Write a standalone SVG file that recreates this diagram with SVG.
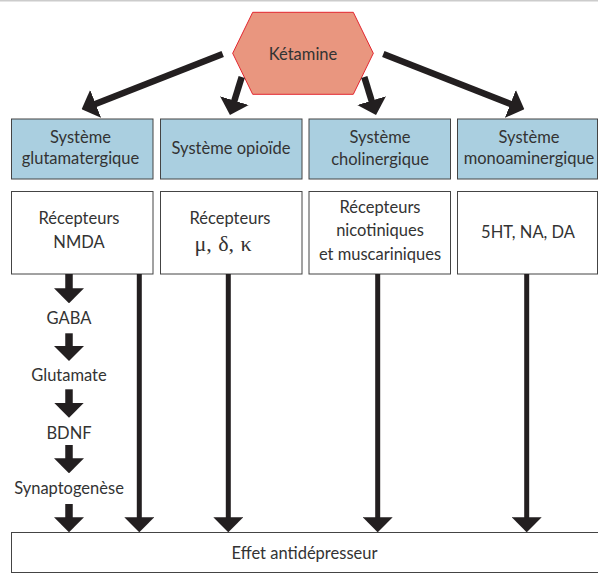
<svg xmlns="http://www.w3.org/2000/svg" width="598" height="575" viewBox="0 0 598 575">
  <style>
    .t { font-family: Lato, "Open Sans", "Liberation Sans", sans-serif; font-size: 16.5px; fill: #333333; text-anchor: middle; dominant-baseline: central; }
    .greek { font-family: "Liberation Serif", "DejaVu Serif", serif; font-size: 22px; fill: #333333; text-anchor: middle; dominant-baseline: central; word-spacing: 1px; }
    .sys { fill: #aacfe0; stroke: #444444; stroke-width: 1; }
    .rec { fill: #ffffff; stroke: #444444; stroke-width: 1; }
    .conn { stroke: #231f20; fill: none; stroke-linecap: butt; marker-end: url(#ah); }
    .thick { stroke-width: 6.5; }
    .mid { stroke-width: 7.5; }
    .thin { stroke-width: 5; }
  </style>
  <defs>
    <marker id="ah" markerUnits="userSpaceOnUse" markerWidth="15" markerHeight="30" viewBox="0 0 15 30" refX="1" refY="15" orient="auto">
      <path d="M0,0 L15,15 L0,30 Z" fill="#231f20"/>
    </marker>
  </defs>
  <rect x="0" y="0" width="598" height="575" fill="#ffffff"/>
  <line x1="0" y1="0.75" x2="598" y2="0.75" stroke="#cccccc" stroke-width="1.5"/>

  <g id="ketamine">
    <polygon points="232.7,53.3 252.7,12.3 353.3,12.3 373.3,53.3 353.3,94.3 252.7,94.3" fill="#e9967f" stroke="#e3262f" stroke-width="1"/>
    <text class="t" x="303" y="53.5">Kétamine</text>
  </g>

  <g id="sys-glutamatergique">
    <rect class="sys" x="11.5" y="119" width="141.5" height="60"/>
    <text class="t" x="80.5" y="136.7">Système</text>
    <text class="t" x="80.5" y="158.3">glutamatergique</text>
  </g>
  <g id="sys-opioide">
    <rect class="sys" x="160.5" y="119" width="141.5" height="60"/>
    <text class="t" x="231" y="148.3">Système opioïde</text>
  </g>
  <g id="sys-cholinergique">
    <rect class="sys" x="309" y="119" width="141.5" height="60"/>
    <text class="t" x="380" y="136.7">Système</text>
    <text class="t" x="380" y="159">cholinergique</text>
  </g>
  <g id="sys-monoaminergique">
    <rect class="sys" x="457.5" y="119" width="140" height="60"/>
    <text class="t" x="529" y="136.7">Système</text>
    <text class="t" x="529" y="158.3">monoaminergique</text>
  </g>

  <g id="rec-nmda">
    <rect class="rec" x="11.5" y="191.5" width="141.5" height="82.5"/>
    <text class="t" x="79" y="218.3">Récepteurs</text>
    <text class="t" x="79" y="241.7">NMDA</text>
  </g>
  <g id="rec-opioide">
    <rect class="rec" x="160.5" y="191.5" width="141.5" height="82.5"/>
    <text class="t" x="230" y="218.3">Récepteurs</text>
    <text class="greek" x="223" y="243">μ, δ, κ</text>
  </g>
  <g id="rec-cholinergique">
    <rect class="rec" x="309" y="191.5" width="141.5" height="82.5"/>
    <text class="t" x="380" y="206.7">Récepteurs</text>
    <text class="t" x="380" y="230">nicotiniques</text>
    <text class="t" x="380" y="254">et muscariniques</text>
  </g>
  <g id="rec-monoamines">
    <rect class="rec" x="457.5" y="191.5" width="140" height="82.5"/>
    <text class="t" x="528" y="231.7">5HT, NA, DA</text>
  </g>

  <g id="gaba"><text class="t" x="69" y="318.3">GABA</text></g>
  <g id="glutamate"><text class="t" x="69" y="375">Glutamate</text></g>
  <g id="bdnf"><text class="t" x="69" y="433.3">BDNF</text></g>
  <g id="synaptogenese"><text class="t" x="69" y="488.3">Synaptogenèse</text></g>

  <g id="effet">
    <rect class="rec" x="11.5" y="532.5" width="592" height="40"/>
    <text class="t" x="304.5" y="553">Effet antidépresseur</text>
  </g>

  <g id="connectors">
    <line class="conn thick" x1="222.7" y1="54" x2="94.7" y2="104.2"/>
    <line class="conn thick" x1="241.7" y1="77" x2="234.1" y2="101.6"/>
    <line class="conn thick" x1="364.3" y1="77" x2="371.9" y2="101.6"/>
    <line class="conn thick" x1="383.3" y1="54" x2="511.3" y2="104.2"/>

    <line class="conn mid" x1="69" y1="274" x2="69" y2="289.3"/>
    <line class="conn mid" x1="69" y1="333.3" x2="69" y2="347"/>
    <line class="conn mid" x1="69" y1="389.3" x2="69" y2="403.7"/>
    <line class="conn mid" x1="69" y1="445" x2="69" y2="459.3"/>
    <line class="conn mid" x1="69" y1="504" x2="69" y2="518.3"/>

    <line class="conn thin" x1="139.3" y1="274" x2="139.3" y2="518.3"/>
    <line class="conn thin" x1="228.3" y1="274" x2="228.3" y2="518.3"/>
    <line class="conn thin" x1="377.7" y1="274" x2="377.7" y2="518.3"/>
    <line class="conn thin" x1="526.7" y1="274" x2="526.7" y2="518.3"/>
  </g>
</svg>
